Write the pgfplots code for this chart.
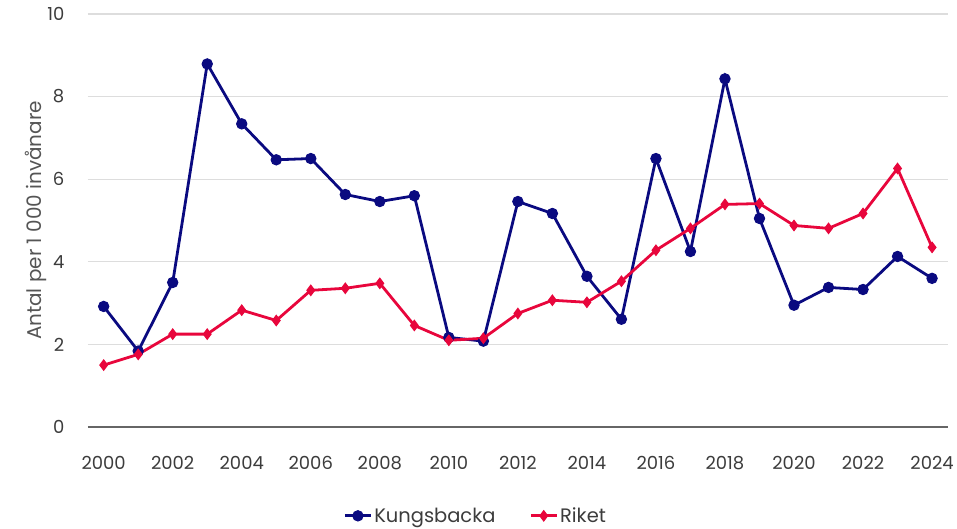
\documentclass[border=0pt]{standalone}
\usepackage{pgfplots}
\pgfplotsset{compat=1.18}
\usepackage{fontspec}
\setmainfont{Poppins}
\definecolor{kb}{HTML}{0A0A80}
\definecolor{rk}{HTML}{E8063C}
\definecolor{txt}{HTML}{3C3C3C}
\definecolor{lbl}{HTML}{555555}
\definecolor{grd}{HTML}{DDDDDD}
\begin{document}
\begin{tikzpicture}
\begin{axis}[
  scale only axis,
  width=862pt, height=414pt,
  xmin=1999.54, xmax=2024.46,
  ymin=0, ymax=10,
  xtick={2000,2002,...,2024},
  ytick={0,2,...,10},
  xticklabel style={/pgf/number format/1000 sep={}},
  /pgf/number format/assume math mode=true,
  tick label style={font=\fontsize{18}{21}\selectfont, text=txt},
  ymajorgrids, grid style={grd, line width=1.2pt},
  axis x line*=bottom, axis y line*=left,
  x axis line style={draw=black!60, line width=1.2pt, -},
  y axis line style={draw=none},
  major tick length=0pt,
  xticklabel style={yshift=-26pt},
  yticklabel style={xshift=-20pt},
  ylabel={Antal per 1 000 invånare},
  ylabel style={font=\fontsize{20}{23}\selectfont, text=lbl, yshift=-6pt},
  legend style={draw=none, at={(0.451,-0.185)}, anchor=north, legend columns=-1,
    font=\fontsize{19.5}{22}\selectfont, text=txt, /tikz/every even column/.append style={column sep=32pt}},
  legend image code/.code={
    \draw[#1, mark repeat=2, mark phase=2] plot coordinates {(0pt,0pt) (13pt,0pt) (26pt,0pt)};},
  every axis plot/.append style={line width=2.8pt},
]
\addplot[color=kb, mark=*, mark size=5.2pt, mark options={solid, line width=1pt}] coordinates {
(2000,2.92) (2001,1.84) (2002,3.50) (2003,8.79) (2004,7.34) (2005,6.47)
(2006,6.50) (2007,5.63) (2008,5.46) (2009,5.60) (2010,2.17) (2011,2.08)
(2012,5.46) (2013,5.17) (2014,3.65) (2015,2.61) (2016,6.50) (2017,4.25)
(2018,8.43) (2019,5.05) (2020,2.95) (2021,3.38) (2022,3.33) (2023,4.13)
(2024,3.60)};
\addlegendentry{Kungsbacka}
\addplot[color=rk, mark=diamond*, mark size=5.5pt, mark options={solid, line width=1pt, scale=0.95}] coordinates {
(2000,1.50) (2001,1.76) (2002,2.25) (2003,2.25) (2004,2.83) (2005,2.58)
(2006,3.31) (2007,3.36) (2008,3.48) (2009,2.46) (2010,2.10) (2011,2.15)
(2012,2.75) (2013,3.07) (2014,3.02) (2015,3.53) (2016,4.28) (2017,4.81)
(2018,5.39) (2019,5.41) (2020,4.88) (2021,4.81) (2022,5.17) (2023,6.26)
(2024,4.35)};
\addlegendentry{Riket}
\end{axis}
\useasboundingbox ([shift={(-88pt,-102pt)}]current axis.south west) rectangle ([shift={(7pt,14pt)}]current axis.north east);
\end{tikzpicture}
\end{document}
